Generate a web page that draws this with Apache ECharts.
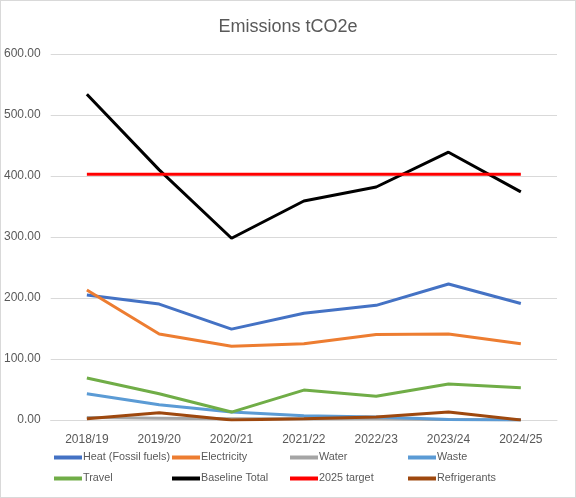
<!DOCTYPE html>
<html>
<head>
<meta charset="utf-8">
<script src="https://cdn.jsdelivr.net/npm/echarts@6/dist/echarts.min.js"></script>
<style>
  html, body { margin: 0; padding: 0; background: #fff; }
  #chart { width: 574px; height: 496px; border: 1px solid #D9D9D9; }
</style>
</head>
<body>
<div id="chart"></div>
<script>
  var years = ['2018/19', '2019/20', '2020/21', '2021/22', '2022/23', '2023/24', '2024/25'];
  var heat = [205, 190, 149, 175, 188, 223, 191];
  var electricity = [213, 141, 121, 125, 140, 141, 125];
  var water = [4, 3, 2, 2, 2, 1, 0];
  var waste = [43, 25, 13, 7, 5, 1, 0];
  var travel = [69, 43, 13, 49, 39, 59, 53];
  var baseline = [534, 410, 298, 359, 382, 439, 374];
  var target = [403, 403, 403, 403, 403, 403, 403];
  var refrigerants = [2, 12, 0, 2, 5, 13, 0];

  var names = ['Heat (Fossil fuels)', 'Electricity', 'Water', 'Waste', 'Travel', 'Baseline Total', '2025 target', 'Refrigerants'];
  var colors = ['#4472C4', '#ED7D31', '#A5A5A5', '#5B9BD5', '#70AD47', '#000000', '#FF0000', '#9E480E'];
  var values = [heat, electricity, water, waste, travel, baseline, target, refrigerants];

  var chart = echarts.init(document.getElementById('chart'));

  var series = [];
  var legends = [];
  names.forEach(function (n, i) {
    series.push({
      name: n,
      type: 'line',
      data: values[i],
      symbol: 'none',
      color: colors[i],
      lineStyle: { width: 3, color: colors[i] },
      z: 10 + i
    });
    // one legend per item so the columns line up like Excel's
    legends.push({
      data: [n],
      left: 53 + (i % 4) * 118,
      top: i < 4 ? 451 : 472,
      padding: 0,
      itemWidth: 28,
      itemHeight: 4,
      icon: 'rect',
      textStyle: { color: '#595959', fontSize: 10.8, fontFamily: 'Liberation Sans', padding: [0, 0, 0, -4] }
    });
  });

  chart.setOption({
    animation: false,
    title: {
      text: 'Emissions tCO2e',
      left: 'center',
      top: 12,
      textStyle: { color: '#595959', fontSize: 18, fontWeight: 'normal', fontFamily: 'Liberation Sans' }
    },
    legend: legends,
    grid: { left: 46, right: 18, top: 53, bottom: 77 },
    xAxis: {
      type: 'category',
      data: years,
      boundaryGap: true,
      axisTick: { show: false },
      axisLine: { lineStyle: { color: '#D9D9D9', width: 1 } },
      axisLabel: { color: '#595959', fontSize: 12, fontFamily: 'Liberation Sans', margin: 14 }
    },
    yAxis: {
      type: 'value',
      min: 0,
      max: 600,
      interval: 100,
      axisLine: { show: false },
      axisTick: { show: false },
      splitLine: { lineStyle: { color: '#D9D9D9', width: 1 } },
      axisLabel: {
        color: '#595959', fontSize: 12, fontFamily: 'Liberation Sans', margin: 10,
        formatter: function (v) { return v.toFixed(2); }
      }
    },
    series: series
  });
</script>
</body>
</html>
